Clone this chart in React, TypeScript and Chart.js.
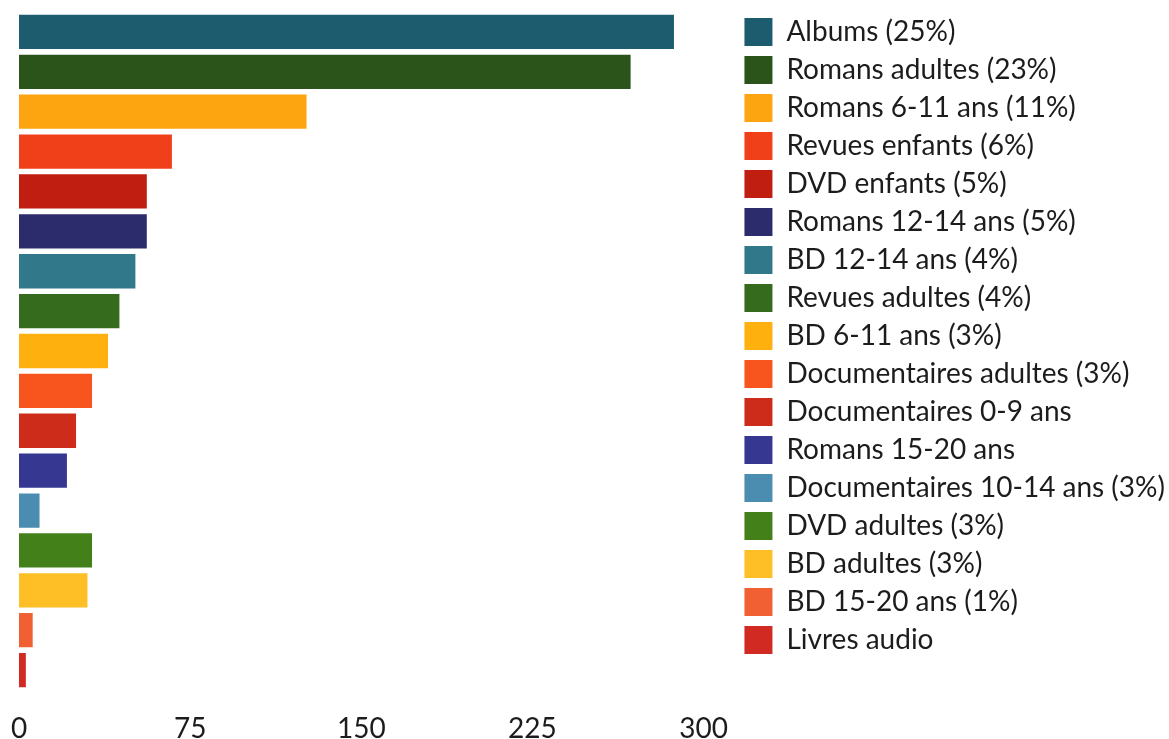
import React, { useEffect, useRef } from "react";
import { Chart, registerables } from "chart.js";

Chart.register(...registerables);

const categories = [
  "Albums",
  "Romans adultes",
  "Romans 6-11 ans",
  "Revues enfants",
  "DVD enfants",
  "Romans 12-14 ans",
  "BD 12-14 ans",
  "Revues adultes",
  "BD 6-11 ans",
  "Documentaires adultes",
  "Documentaires 0-9 ans",
  "Romans 15-20 ans",
  "Documentaires 10-14 ans",
  "DVD adultes",
  "BD adultes",
  "BD 15-20 ans",
  "Livres audio",
];

const legendLabels = [
  "Albums (25%)",
  "Romans adultes (23%)",
  "Romans 6-11 ans (11%)",
  "Revues enfants (6%)",
  "DVD enfants (5%)",
  "Romans 12-14 ans (5%)",
  "BD 12-14 ans (4%)",
  "Revues adultes (4%)",
  "BD 6-11 ans (3%)",
  "Documentaires adultes (3%)",
  "Documentaires 0-9 ans",
  "Romans 15-20 ans",
  "Documentaires 10-14 ans (3%)",
  "DVD adultes (3%)",
  "BD adultes (3%)",
  "BD 15-20 ans (1%)",
  "Livres audio",
];

const values = [287, 268, 126, 67, 56, 56, 51, 44, 39, 32, 25, 21, 9, 32, 30, 6, 3];

const colors = [
  "#1d5c6e",
  "#2a5419",
  "#fca510",
  "#f0401a",
  "#c01e10",
  "#2c2b6b",
  "#30788a",
  "#356b1c",
  "#feb10e",
  "#f8541e",
  "#cc2c19",
  "#363790",
  "#4a8db0",
  "#44801a",
  "#fdbf25",
  "#f06033",
  "#d02a22",
];

// tick values shown on the x axis; the axis itself runs a little past 300
const xTickValues = [0, 75, 150, 225, 300];
const xAxisMax = 313.5;

const FONT = "Lato, 'Noto Sans', sans-serif";
const TEXT = "#1c1c1c";

export default function App() {
  const ref = useRef<HTMLCanvasElement | null>(null);

  useEffect(() => {
    document.body.style.margin = "0";
    if (!ref.current) return;
    const chart = new Chart(ref.current, {
      type: "bar",
      data: {
        labels: categories,
        datasets: [
          {
            data: values,
            backgroundColor: colors,
            borderWidth: 0,
            categoryPercentage: 1,
            barPercentage: 0.86,
          },
        ],
      },
      options: {
        indexAxis: "y",
        animation: false,
        responsive: false,
        layout: { padding: { top: 8, left: 19, right: -6, bottom: 0 } },
        scales: {
          x: {
            min: 0,
            max: xAxisMax,
            afterBuildTicks: (s: any) => {
              s.ticks = xTickValues.map((v) => ({ value: v }));
            },
            ticks: {
              font: { family: FONT, size: 28, lineHeight: "58px" },
              color: TEXT,
              padding: 10,
            },
            grid: { display: false, drawTicks: false },
            border: { display: false },
          },
          y: { display: false },
          xTop: {
            type: "linear",
            axis: "x",
            position: "top",
            display: true,
            ticks: { display: false },
            grid: { display: false, drawTicks: false },
            border: { display: false },
            afterFit: (s: any) => {
              s.height = 4;
            },
          },
        },
        plugins: {
          tooltip: { enabled: false },
          legend: {
            position: "right",
            align: "start",
            labels: {
              boxWidth: 28,
              boxHeight: 28,
              padding: 10,
              color: TEXT,
              font: { family: FONT, size: 28 },
              generateLabels: () =>
                legendLabels.map((t, i) => ({
                  text: t,
                  fillStyle: colors[i],
                  strokeStyle: colors[i],
                  lineWidth: 0,
                  hidden: false,
                  index: i,
                  datasetIndex: 0,
                  fontColor: TEXT,
                })),
            },
          },
        },
      },
    });
    return () => chart.destroy();
  }, []);

  return (
    <div style={{ width: 1169, height: 739, overflow: "hidden" }}>
      <canvas ref={ref} width={1169} height={768} style={{ display: "block" }} />
    </div>
  );
}
